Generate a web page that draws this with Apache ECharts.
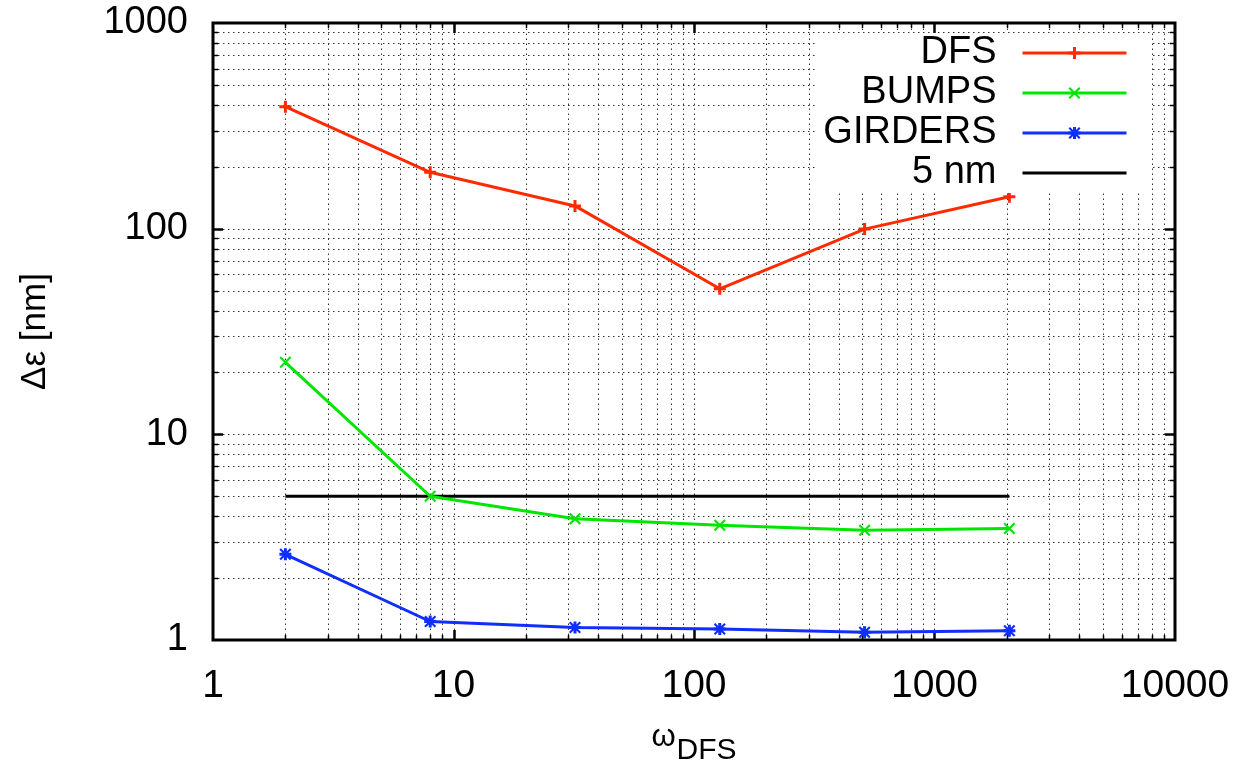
<!DOCTYPE html>
<html>
<head>
<meta charset="utf-8">
<script src="https://cdn.jsdelivr.net/npm/echarts@6/dist/echarts.min.js"></script>
<style>
html,body{margin:0;padding:0;background:#fff;}
#c{width:1244px;height:764px;}
</style>
</head>
<body>
<div id="c"></div>
<script>
// ---- data ----
const omegaDFS = [2, 8, 32, 128, 512, 2048];
const dfsValues = [392, 188, 129, 51, 99.5, 143];
const bumpsValues = [22.4, 5.0, 3.89, 3.61, 3.42, 3.48];
const girdersValues = [2.61, 1.23, 1.15, 1.13, 1.09, 1.11];
const refX = [2, 2048];
const refY = [5, 5];
const seriesNames = ['DFS', 'BUMPS', 'GIRDERS', '5 nm'];
const xTickLabels = [1, 10, 100, 1000, 10000];
const yTickLabels = [1, 10, 100, 1000];
const minorMultipliers = [2, 3, 4, 5, 6, 7, 8, 9];

const X_MIN = 1, X_MAX = 10000, Y_MIN = 1, Y_MAX = 1000;
const FONT = '"Liberation Sans", Arial, Helvetica, sans-serif';

function gridValues(lo, hi) {
  const out = [];
  for (let d = lo; d < hi; d *= 10) {
    if (d > lo) out.push(d);
    minorMultipliers.forEach(m => out.push(m * d));
  }
  return out;
}
const xGrid = gridValues(X_MIN, X_MAX);
const yGrid = gridValues(Y_MIN, Y_MAX);
function isMajor(v) { const l = Math.log10(v); return Math.abs(l - Math.round(l)) < 1e-9; }
function px(v) { return Math.round(v) + 0.5; }

const PLUS = 'path://M4.5,0H7.5V4.5H12V7.5H7.5V12H4.5V7.5H0V4.5H4.5Z';
const CROSS = 'path://M0,1.5L1.5,0L12,10.5L10.5,12ZM10.5,0L12,1.5L1.5,12L0,10.5Z';
const STAR = 'path://M4.5,0H7.5V4.5H12V7.5H7.5V12H4.5V7.5H0V4.5H4.5ZM0,1.5L1.5,0L12,10.5L10.5,12ZM10.5,0L12,1.5L1.5,12L0,10.5Z';

const RED = '#ff2a00', GREEN = '#00e600', BLUE = '#0f2eff';

const gridStyle = {stroke: '#333', lineWidth: 1, lineDash: [1.5, 3.5]};

function xGridItem(params, api) {
  const v = api.value(0);
  const b = api.coord([v, Y_MIN]);
  const t = api.coord([v, Y_MAX]);
  const major = isMajor(v);
  const len = major ? 10 : 5;
  const x = px(b[0]);
  const tw = major ? 2.5 : 1.5;
  return {type: 'group', children: [
    {type: 'line', shape: {x1: x, y1: b[1], x2: x, y2: t[1]}, style: gridStyle},
    {type: 'line', shape: {x1: x, y1: b[1], x2: x, y2: b[1] - len}, style: {stroke: '#000', lineWidth: tw}},
    {type: 'line', shape: {x1: x, y1: t[1], x2: x, y2: t[1] + len}, style: {stroke: '#000', lineWidth: tw}}
  ]};
}
function yGridItem(params, api) {
  const v = api.value(1);
  const l = api.coord([X_MIN, v]);
  const r = api.coord([X_MAX, v]);
  const major = isMajor(v);
  const len = major ? 10 : 5;
  const y = px(l[1]);
  const tw = major ? 2.5 : 1.5;
  return {type: 'group', children: [
    {type: 'line', shape: {x1: l[0], y1: y, x2: r[0], y2: y}, style: gridStyle},
    {type: 'line', shape: {x1: l[0], y1: y, x2: l[0] + len, y2: y}, style: {stroke: '#000', lineWidth: tw}},
    {type: 'line', shape: {x1: r[0], y1: y, x2: r[0] - len, y2: y}, style: {stroke: '#000', lineWidth: tw}}
  ]};
}

const chart = echarts.init(document.getElementById('c'), null, {renderer: 'canvas'});
const option = {
  animation: false,
  backgroundColor: '#fff',
  textStyle: {fontFamily: FONT, color: '#000'},
  grid: {left: 213, right: 69, top: 23, bottom: 124, containLabel: false, outerBoundsMode: 'none',
    show: true, borderColor: '#000', borderWidth: 3, backgroundColor: 'transparent', z: 5},
  legend: {
    data: [
      {name: 'DFS'}, {name: 'BUMPS'}, {name: 'GIRDERS'},
      {name: '5 nm', itemStyle: {opacity: 0}}
    ],
    orient: 'vertical',
    align: 'right',
    right: 94,
    top: 33,
    padding: [0, 22, 0, 6],
    itemGap: 0,
    itemWidth: 104,
    itemHeight: 15,
    backgroundColor: '#fff',
    z: 10,
    selectedMode: false,
    lineStyle: {width: 3},
    textStyle: {fontFamily: FONT, fontSize: 38, color: '#000', lineHeight: 40, padding: [0, 21, 0, 0]}
  },
  xAxis: {
    type: 'log', logBase: 10, min: X_MIN, max: X_MAX,
    splitLine: {show: false}, axisTick: {show: false}, axisLine: {show: false},
    axisLabel: {fontFamily: FONT, fontSize: 39, color: '#000', margin: 27, formatter: v => (xTickLabels.indexOf(v) >= 0 ? String(v) : '')},
    name: '{w|ω}{s|DFS}',
    nameLocation: 'middle',
    nameGap: 82,
    nameTextStyle: {
      rich: {
        w: {fontFamily: FONT, fontSize: 31, color: '#000', padding: [0, 1, 13, 0]},
        s: {fontFamily: FONT, fontSize: 30, color: '#000', padding: [13, 0, 0, 0]}
      }
    }
  },
  yAxis: {
    type: 'log', logBase: 10, min: Y_MIN, max: Y_MAX,
    splitLine: {show: false}, axisTick: {show: false}, axisLine: {show: false},
    axisLabel: {fontFamily: FONT, fontSize: 38, color: '#000', margin: 25, formatter: v => (yTickLabels.indexOf(v) >= 0 ? String(v) : '')},
    name: 'Δε [nm]',
    nameLocation: 'middle',
    nameGap: 160,
    nameTextStyle: {fontFamily: FONT, fontSize: 35, color: '#000'}
  },
  series: [
    {type: 'custom', renderItem: xGridItem, data: xGrid.map(v => [v, Y_MIN]), encode: {x: 0, y: 1}, z: 1, silent: true, clip: false},
    {type: 'custom', renderItem: yGridItem, data: yGrid.map(v => [X_MIN, v]), encode: {x: 0, y: 1}, z: 1, silent: true, clip: false},
    {name: 'DFS', type: 'line', data: omegaDFS.map((x, i) => [x, dfsValues[i]]), symbol: PLUS, symbolSize: 12, color: RED,
      lineStyle: {width: 3, color: RED}, itemStyle: {color: RED}, z: 3},
    {name: 'BUMPS', type: 'line', data: omegaDFS.map((x, i) => [x, bumpsValues[i]]), symbol: CROSS, symbolSize: 12, color: GREEN,
      lineStyle: {width: 3, color: GREEN}, itemStyle: {color: GREEN}, z: 3},
    {name: 'GIRDERS', type: 'line', data: omegaDFS.map((x, i) => [x, girdersValues[i]]), symbol: STAR, symbolSize: 12, color: BLUE,
      lineStyle: {width: 3, color: BLUE}, itemStyle: {color: BLUE}, z: 3},
    {name: '5 nm', type: 'line', data: refX.map((x, i) => [x, refY[i]]), symbol: 'none', color: '#000',
      lineStyle: {width: 3, color: '#000'}, itemStyle: {color: '#000'}, z: 2}
  ]
};
chart.setOption(option);
</script>
</body>
</html>
